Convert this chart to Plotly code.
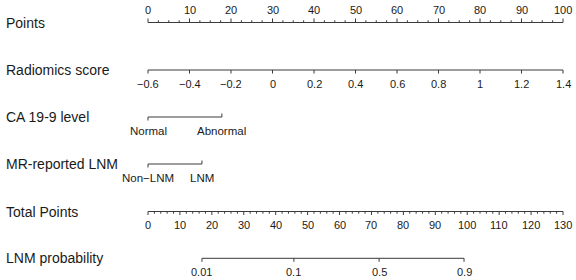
import plotly.graph_objects as go
import numpy as np

# ---- data ----
points_ticks = [0, 10, 20, 30, 40, 50, 60, 70, 80, 90, 100]
radiomics_ticks = [-0.6, -0.4, -0.2, 0, 0.2, 0.4, 0.6, 0.8, 1, 1.2, 1.4]
radiomics_labels = ["\u22120.6", "\u22120.4", "\u22120.2", "0", "0.2", "0.4", "0.6", "0.8", "1", "1.2", "1.4"]
radiomics_range = (-0.6, 1.4)           # maps to 0..100 points
ca_labels = ["Normal", "Abnormal"]
ca_points = [0, 17.8]
mr_labels = ["Non\u2212LNM", "LNM"]
mr_points = [0, 13.0]
total_ticks = list(range(0, 131, 10))
total_max = 130
prob_labels = ["0.01", "0.1", "0.5", "0.9"]
prob_total_points = [16.9, 45.7, 72.4, 99.0]
row_names = ["Points", "Radiomics score", "CA 19-9 level", "MR-reported LNM",
             "Total Points", "LNM probability"]

# ---- layout constants (pixels) ----
W, H = 576, 280
X0, X1 = 148, 563          # pixel positions of 0 and 100 points
ppu = (X1 - X0) / 100.0
row_y = [22.5, 70, 117, 164, 211.5, 258.3]
LINE = "#3a3a3a"
TXT = "#1a1a1a"
FONT = "Liberation Sans, Arial, sans-serif"
TICKLEN = 3.5

segs_x, segs_y = [], []
def seg(xa, ya, xb, yb):
    segs_x.extend([xa, xb, None]); segs_y.extend([ya, yb, None])

ann = []
def label(x, y, s, size=11):
    ann.append(dict(x=x, y=y, xref="x", yref="y", text=s, showarrow=False,
                    font=dict(family=FONT, size=size, color=TXT),
                    xanchor="center", yanchor="middle"))

# Points axis (labels above, ticks up)
y = row_y[0]
seg(0, y, 100, y)
for v in np.arange(0, 100.01, 2.5):
    major = abs(v % 10) < 1e-9
    seg(v, y, v, y - (4 if major else 2.2))
for v in points_ticks:
    label(v, 9.5, str(v))

# Radiomics score (ticks down, labels below)
y = row_y[1]
def rpt(r):
    return (r - radiomics_range[0]) / (radiomics_range[1] - radiomics_range[0]) * 100
seg(rpt(radiomics_ticks[0]), y, rpt(radiomics_ticks[-1]), y)
for v, s in zip(radiomics_ticks, radiomics_labels):
    seg(rpt(v), y, rpt(v), y + TICKLEN)
    label(rpt(v), 83.5, s)

# CA 19-9
y = row_y[2]
seg(ca_points[0], y, ca_points[1], y)
seg(ca_points[0], y, ca_points[0], y + TICKLEN)
seg(ca_points[1], y, ca_points[1], y - TICKLEN)
for p, s in zip(ca_points, ca_labels):
    label(p, 130.5, s, 11.5)

# MR-reported LNM
y = row_y[3]
seg(mr_points[0], y, mr_points[1], y)
seg(mr_points[0], y, mr_points[0], y + TICKLEN)
seg(mr_points[1], y, mr_points[1], y - TICKLEN)
for p, s in zip(mr_points, mr_labels):
    label(p, 178, s, 11.5)

# Total points (ticks down, labels below)
y = row_y[4]
def tpt(t):
    return t * 100.0 / total_max
seg(0, y, 100, y)
for v in range(0, total_max + 1, 2):
    major = v % 10 == 0
    seg(tpt(v), y, tpt(v), y + (3.5 if major else 2.2))
for v in total_ticks:
    label(tpt(v), 225, str(v))

# LNM probability
y = row_y[5]
seg(tpt(prob_total_points[0]), y, tpt(prob_total_points[-1]), y)
for t, s in zip(prob_total_points, prob_labels):
    seg(tpt(t), y, tpt(t), y + TICKLEN)
    label(tpt(t), 272, s)

# Row names
for name, yy in zip(row_names, row_y):
    ann.append(dict(x=4 / W, y=yy, xref="paper", yref="y", text=name, showarrow=False,
                    font=dict(family=FONT, size=14, color=TXT),
                    xanchor="left", yanchor="middle"))

fig = go.Figure()
fig.add_trace(go.Scatter(x=segs_x, y=segs_y, mode="lines",
                         line=dict(color=LINE, width=1), hoverinfo="skip",
                         showlegend=False))
fig.update_layout(
    width=W, height=H, margin=dict(l=0, r=0, t=0, b=0),
    paper_bgcolor="white", plot_bgcolor="white",
    xaxis=dict(range=[-X0 / ppu, (W - X0) / ppu], visible=False, fixedrange=True),
    yaxis=dict(range=[H, 0], visible=False, fixedrange=True),
    annotations=ann, showlegend=False,
)
fig.write_html("out.html", config={"displayModeBar": False},
               post_script="document.body.style.margin='0px';document.body.style.overflow='hidden';")
